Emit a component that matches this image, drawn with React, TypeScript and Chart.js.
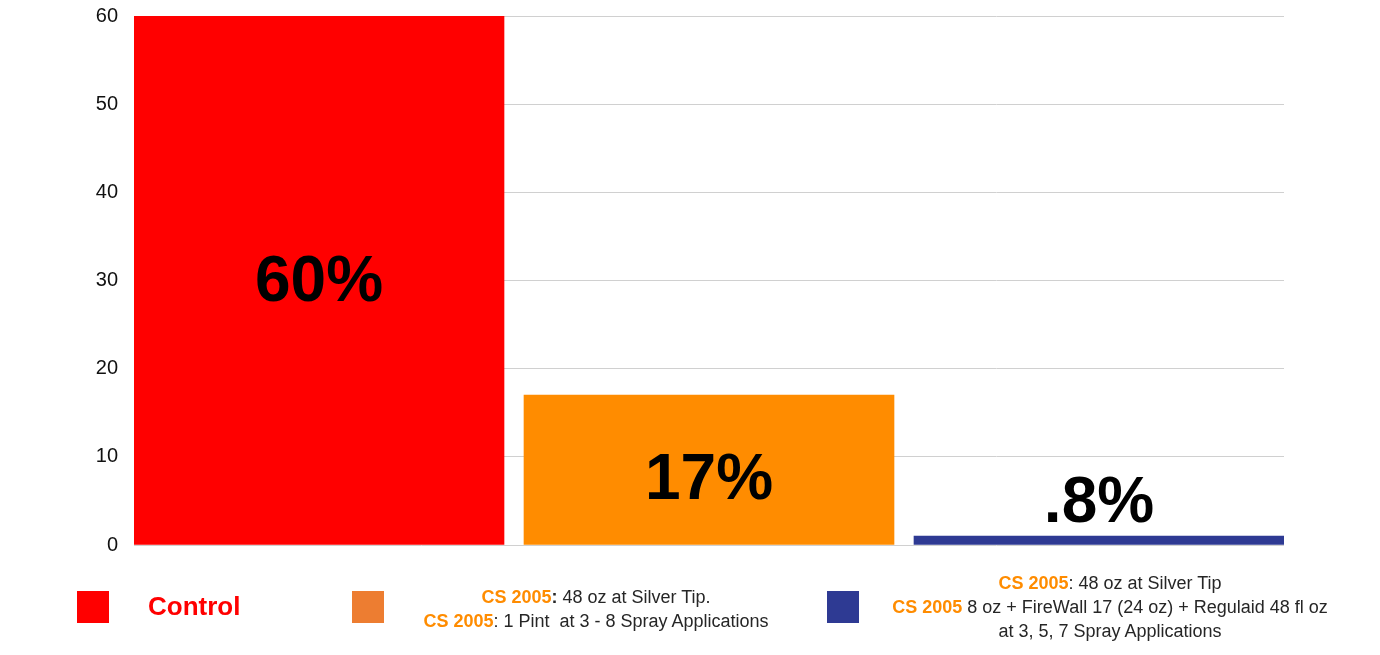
import { useEffect, useRef } from 'react';
import { Chart, registerables } from 'chart.js';
Chart.register(...registerables);

const categories = ['Control', 'CS 2005 Silver Tip + 3-8 Sprays', 'CS 2005 + FireWall 17 + Regulaid'];
const values = [60, 17, 1];
const valueLabels = ['60%', '17%', '.8%'];
const barColors = ['#ff0000', '#ff8c00', '#2e3a93'];
const yTicks = [0, 10, 20, 30, 40, 50, 60];

const FONT = '"Liberation Sans", Arial, sans-serif';
const ORANGE_TXT = '#ff8c00';
const DARK_TXT = '#262626';

const barLabels = {
  id: 'barLabels',
  afterDatasetsDraw(chart: Chart) {
    const ctx = chart.ctx;
    const meta = chart.getDatasetMeta(0);
    ctx.save();
    ctx.font = `bold 64px ${FONT}`;
    ctx.fillStyle = '#000';
    ctx.textAlign = 'center';
    meta.data.forEach((el: any, i: number) => {
      const h = el.base - el.y;
      if (h > 80) {
        ctx.textBaseline = 'middle';
        ctx.fillText(valueLabels[i], el.x, (el.y + el.base) / 2 + 3 + (h < 200 ? 9 : 0));
      } else {
        ctx.textBaseline = 'alphabetic';
        ctx.fillText(valueLabels[i], el.x, el.y - 14);
      }
    });
    ctx.restore();
  },
};

export default function App() {
  const ref = useRef<HTMLCanvasElement>(null);

  useEffect(() => {
    const chart = new Chart(ref.current!, {
      type: 'bar',
      data: {
        datasets: [{
          label: 'Fruit damage',
          data: categories.map((_, i) => ({ x: i, y: values[i] })),
          backgroundColor: barColors,
          borderWidth: 0,
          barThickness: 370,
        }],
      },
      options: {
        responsive: false,
        animation: false,
        devicePixelRatio: 1,
        layout: { padding: { top: 16, right: 96, bottom: 110, left: 0 } },
        plugins: { legend: { display: false }, tooltip: { enabled: false } },
        scales: {
          x: { type: 'linear', offset: false, min: -0.5 + 10 / 390, max: 2.5 - 10 / 390, display: false },
          y: {
            min: 0, max: 60,
            afterFit: (s: any) => { s.width = 134; s.paddingTop = 0; s.paddingBottom = 0; },
            afterBuildTicks: (s: any) => { s.ticks = yTicks.map(v => ({ value: v })); },
            ticks: { color: '#111', padding: 16, font: { family: FONT, size: 20 } },
            grid: { color: '#d0d0d0', lineWidth: 1, drawTicks: false },
            border: { display: false },
          },
        },
      },
      plugins: [barLabels],
    });
    return () => chart.destroy();
  }, []);

  const sq = (left: number, color: string) => (
    <div style={{ position: 'absolute', left, top: 591, width: 32, height: 32, background: color }} />
  );
  const txt: React.CSSProperties = { position: 'absolute', fontFamily: FONT, fontSize: 18, color: DARK_TXT, textAlign: 'center', lineHeight: '24px', whiteSpace: 'nowrap', transform: 'translateX(-50%)' };
  const cs = <span style={{ color: ORANGE_TXT, fontWeight: 'bold' }}>CS 2005</span>;

  return (
    <div style={{ position: 'absolute', left: 0, top: 0, width: 1380, height: 655, background: '#fff', overflow: 'hidden' }}>
      <canvas ref={ref} width={1380} height={655} style={{ position: 'absolute', left: 0, top: 0 }} />
      {sq(77, '#ff0000')}
      <div style={{ position: 'absolute', left: 148, top: 590, fontFamily: FONT, fontSize: 26, fontWeight: 'bold', color: '#ff0000', lineHeight: '32px' }}>Control</div>
      {sq(352, '#ed7d31')}
      <div style={{ ...txt, left: 596, top: 585 }}>
        {cs}<b>:</b> 48 oz at Silver Tip.<br />
        {cs}: 1 Pint&nbsp; at 3 - 8 Spray Applications
      </div>
      {sq(827, '#2e3a93')}
      <div style={{ ...txt, left: 1110, top: 571 }}>
        {cs}: 48 oz at Silver Tip<br />
        {cs} 8 oz + FireWall 17 (24 oz) + Regulaid 48 fl oz<br />
        at 3, 5, 7 Spray Applications
      </div>
    </div>
  );
}
